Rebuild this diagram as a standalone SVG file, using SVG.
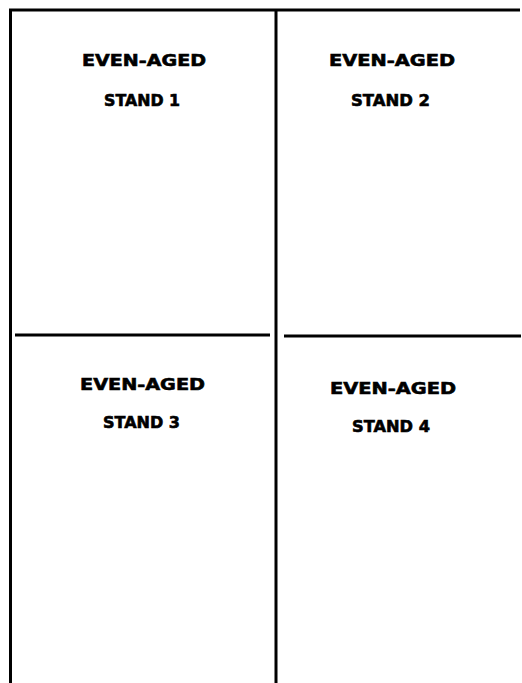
<svg xmlns="http://www.w3.org/2000/svg" width="522" height="683" viewBox="0 0 522 683">
<style>
.ln{stroke:#000;stroke-width:3;fill:none;stroke-linecap:butt}
.t{font-family:"DejaVu Sans","Liberation Sans",sans-serif;font-weight:bold;font-size:16px;fill:#000;stroke:#000;stroke-width:0.6}
</style>
<rect width="522" height="683" fill="#fff"/>
<g id="connectors">
<path class="ln" d="M9,10 H520"/>
<path class="ln" d="M10.5,9 V683"/>
<path class="ln" d="M276,10 V683"/>
<path class="ln" d="M15,335 H270"/>
<path class="ln" d="M284,336 H521"/>
</g>
<g id="stand1">
<text class="t" x="82" y="66" textLength="124" lengthAdjust="spacingAndGlyphs">EVEN-AGED</text>
<text class="t" x="104" y="106" textLength="76" lengthAdjust="spacingAndGlyphs">STAND 1</text>
</g>
<g id="stand2">
<text class="t" x="329" y="66" textLength="126" lengthAdjust="spacingAndGlyphs">EVEN-AGED</text>
<text class="t" x="351" y="106" textLength="79" lengthAdjust="spacingAndGlyphs">STAND 2</text>
</g>
<g id="stand3">
<text class="t" x="80" y="390" textLength="125" lengthAdjust="spacingAndGlyphs">EVEN-AGED</text>
<text class="t" x="103" y="428" textLength="77" lengthAdjust="spacingAndGlyphs">STAND 3</text>
</g>
<g id="stand4">
<text class="t" x="330" y="394" textLength="126" lengthAdjust="spacingAndGlyphs">EVEN-AGED</text>
<text class="t" x="352" y="432" textLength="78" lengthAdjust="spacingAndGlyphs">STAND 4</text>
</g>
</svg>
